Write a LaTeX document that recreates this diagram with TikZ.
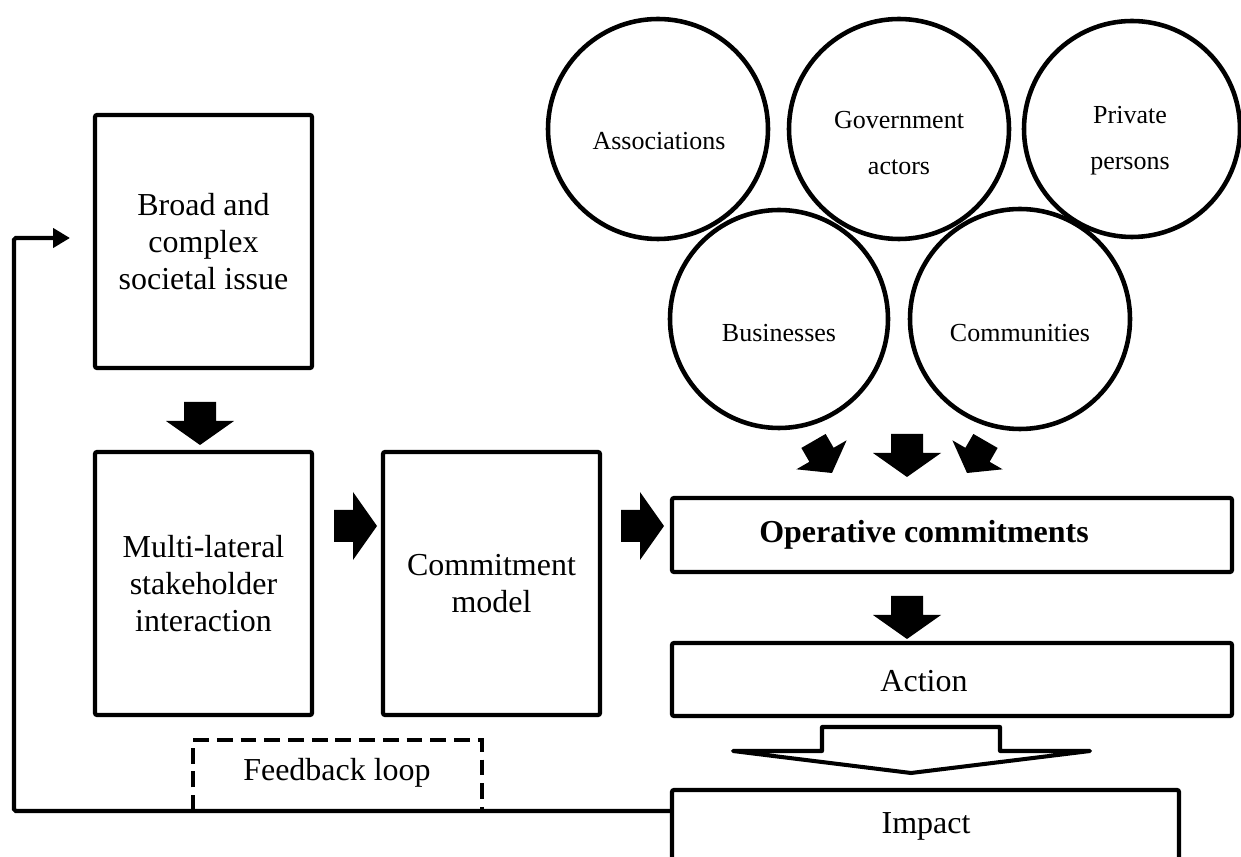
\documentclass[tikz,border=0pt]{standalone}
\usepackage{fontspec}
\setmainfont{Liberation Serif}
\usetikzlibrary{arrows.meta,calc}
\newcommand{\fbig}{\fontsize{18.2pt}{21pt}\selectfont}
\newcommand{\fsmall}{\fontsize{14.8pt}{26pt}\selectfont}
\begin{document}
\begin{tikzpicture}[x=0.02cm,y=-0.02cm,
  lw/.style={line width=2.4pt},
  frame/.style={draw,lw,rounded corners=1.2pt,inner sep=0pt,align=center,font=\fbig},
  circ/.style={draw,line width=2.6pt,circle,inner sep=0pt},
  ctext/.style={font=\fsmall,align=center,inner sep=0pt},
  lbl/.style={font=\fbig,inner sep=0pt},
  bigarrow/.pic={\fill (0,0) -- (34,-24) -- (16,-24) -- (16,-43) -- (-16,-43) -- (-16,-24) -- (-34,-24) -- cycle;},
  smallarrow/.pic={\fill (0,0) -- (29,-21) -- (14,-21) -- (14,-37) -- (-14,-37) -- (-14,-21) -- (-29,-21) -- cycle;}
]
\useasboundingbox (0,0) rectangle (1241,857);
\fill[white] (0,0) rectangle (1241,857);
\clip (0,0) rectangle (1241,857);

% circles
\node[circ,minimum size=220*0.02cm] (assoc) at (658,129) {};
\node[ctext] (assoctxt) at (659,141) {Associations};
\node[circ,minimum size=220*0.02cm] (gov) at (899,129) {};
\node[ctext] (govtxt) at (899,143) {Government\\actors};
\node[circ,minimum size=216*0.02cm] (priv) at (1132,129) {};
\node[ctext] (privtxt) at (1130,141) {Private\\persons};
\node[circ,minimum size=218*0.02cm] (bus) at (779,319) {};
\node[ctext] (bustxt) at (779,333) {Businesses};
\node[circ,minimum size=220*0.02cm] (com) at (1020,319) {};
\node[ctext] (comtxt) at (1020,333) {Communities};

% boxes
\node[frame,minimum width=217*0.02cm,minimum height=253*0.02cm] (issue) at (203.5,241.5) {Broad and\\complex\\societal issue};
\node[frame,minimum width=217*0.02cm,minimum height=263*0.02cm] (msi) at (203.5,583.5) {Multi-lateral\\stakeholder\\interaction};
\node[frame,minimum width=217*0.02cm,minimum height=263*0.02cm] (cm) at (491.5,583.5) {Commitment\\model};
\node[frame,minimum width=560*0.02cm,minimum height=74*0.02cm] (op) at (952,535) {};
\node[lbl,font=\fbig\bfseries] (optxt) at (924,535) {Operative commitments};
\node[frame,minimum width=560*0.02cm,minimum height=73*0.02cm] (act) at (952,679.5) {};
\node[lbl] (acttxt) at (924,681) {Action};
\node[frame,minimum width=507*0.02cm,minimum height=120*0.02cm] (imp) at (925.5,850) {};
\node[lbl] (imptxt) at (926,826) {Impact};

% block arrows
\pic at (200,445) {bigarrow};
\pic[rotate=90] at (377,526) {bigarrow};
\pic[rotate=90] at (664,526) {bigarrow};
\pic at (907,477) {bigarrow};
\pic[rotate=30] at (832,473) {smallarrow};
\pic[rotate=-30] at (967,473) {smallarrow};
\pic at (907,639) {bigarrow};

% hollow arrow
\draw[line width=2.3pt,fill=white,line join=round] (822,751) -- (822,727) -- (1000,727) -- (1000,751) -- (1090,751) -- (911,773) -- (733,751) -- cycle;

% feedback loop
\coordinate (lb) at (14,811);
\coordinate (lt) at (14,238);
\coordinate (tip) at (70,238);
\draw[lw,rounded corners=1pt,-{Triangle[length=0.34cm,width=0.38cm]}] (imp.west |- lb) -- (lb) -- (lt) -- (tip);
\node[lbl] (fb) at (337,773) {Feedback loop};
\draw[lw,dash pattern=on 9pt off 4.5pt] (193,811) -- (193,740) -- (482,740) -- (482,811);
\end{tikzpicture}
\end{document}
